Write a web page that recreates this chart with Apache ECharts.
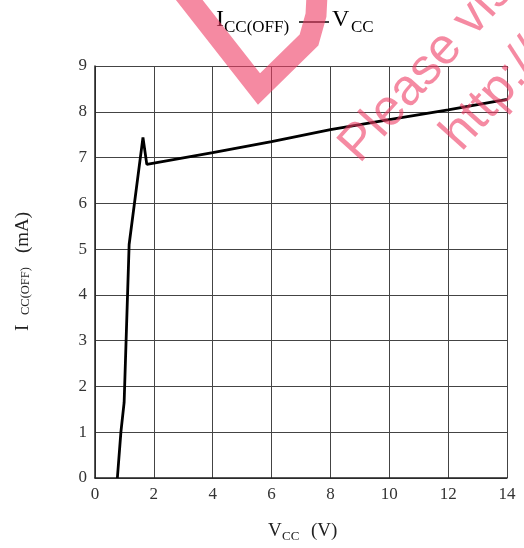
<!DOCTYPE html>
<html>
<head>
<meta charset="utf-8">
<script src="https://cdn.jsdelivr.net/npm/echarts@6/dist/echarts.min.js"></script>
<style>
html,body{margin:0;padding:0;background:#fff;}
#c{width:524px;height:548px;}
</style>
</head>
<body>
<div id="c"></div>
<script>
// Data
const vcc = [0.76, 0.88, 0.99, 1.16, 1.63, 1.76, 4, 6, 8, 10, 12, 14];
const icc = [0, 1.0, 1.65, 5.1, 7.44, 6.85, 7.11, 7.35, 7.61, 7.83, 8.04, 8.27];
const xTicks = [0, 2, 4, 6, 8, 10, 12, 14];
const yTicks = [0, 1, 2, 3, 4, 5, 6, 7, 8, 9];

const serif = '"Liberation Serif","DejaVu Serif",serif';
const wm = 'rgba(238,60,100,0.6)';

const chart = echarts.init(document.getElementById('c'));
const option = {
  animation: false,
  backgroundColor: '#fff',
  grid: { left: 95, right: 17, top: 66, bottom: 70 },
  xAxis: {
    type: 'value', min: xTicks[0], max: xTicks[xTicks.length - 1], interval: 2,
    axisLine: { show: true, lineStyle: { color: '#222', width: 1.5 } },
    axisTick: { show: false },
    axisLabel: { fontFamily: serif, fontSize: 17, color: '#333', margin: 8 },
    splitLine: { show: true, lineStyle: { color: '#444', width: 1 } }
  },
  yAxis: {
    type: 'value', min: yTicks[0], max: yTicks[yTicks.length - 1], interval: 1,
    axisLine: { show: true, lineStyle: { color: '#222', width: 1.5 } },
    axisTick: { show: false },
    axisLabel: { fontFamily: serif, fontSize: 17, color: '#333', margin: 8 },
    splitLine: { show: true, lineStyle: { color: '#444', width: 1 } }
  },
  series: [{
    type: 'line',
    data: vcc.map((v, i) => [v, icc[i]]),
    showSymbol: false,
    lineStyle: { color: '#000', width: 2.8 },
    z: 3
  }],
  graphic: [
    // title
    { type: 'text', left: 216, top: 8, style: { text: 'I', font: '24px ' + serif, fill: '#000' } },
    { type: 'text', left: 224, top: 19, style: { text: 'CC(OFF)', font: '17px ' + serif, fill: '#000' } },
    { type: 'line', shape: { x1: 299, y1: 22, x2: 329, y2: 22 }, style: { stroke: '#000', lineWidth: 1.5 } },
    { type: 'text', left: 332, top: 8, style: { text: 'V', font: '24px ' + serif, fill: '#000' } },
    { type: 'text', left: 351, top: 19, style: { text: 'CC', font: '17px ' + serif, fill: '#000' } },
    // x axis name
    { type: 'text', left: 268, top: 522, style: { text: 'V', font: '19px ' + serif, fill: '#222' } },
    { type: 'text', left: 282, top: 530, style: { text: 'CC', font: '13px ' + serif, fill: '#222' } },
    { type: 'text', left: 311, top: 522, style: { text: '(V)', font: '19px ' + serif, fill: '#222' } },
    // y axis name (rotated)
    { type: 'text', x: 14, y: 331, rotation: Math.PI / 2, style: { text: 'I', font: '19px ' + serif, fill: '#222', textAlign: 'left', textVerticalAlign: 'top' } },
    { type: 'text', x: 19, y: 315, rotation: Math.PI / 2, style: { text: 'CC(OFF)', font: '12.5px ' + serif, fill: '#222', textAlign: 'left', textVerticalAlign: 'top' } },
    { type: 'text', x: 14, y: 253, rotation: Math.PI / 2, style: { text: '(mA)', font: '19px ' + serif, fill: '#222', textAlign: 'left', textVerticalAlign: 'top' } },
    // watermark
    { type: 'polyline', z: 100, shape: { points: [[183, -8], [259, 89], [309, 40], [316, 15], [317, -5]] },
      style: { stroke: wm, lineWidth: 21, fill: null, lineJoin: 'miter' } },
    { type: 'text', z: 100, x: 368, y: 172, rotation: 48 * Math.PI / 180,
      style: { text: 'Please visit', font: '51px "Liberation Sans",Arial,sans-serif', fill: wm, textAlign: 'left', textVerticalAlign: 'bottom' } },
    { type: 'text', z: 100, x: 470, y: 160, rotation: 48 * Math.PI / 180,
      style: { text: 'http://www', font: '51px "Liberation Sans",Arial,sans-serif', fill: wm, textAlign: 'left', textVerticalAlign: 'bottom' } }
  ]
};
chart.setOption(option);
</script>
</body>
</html>
